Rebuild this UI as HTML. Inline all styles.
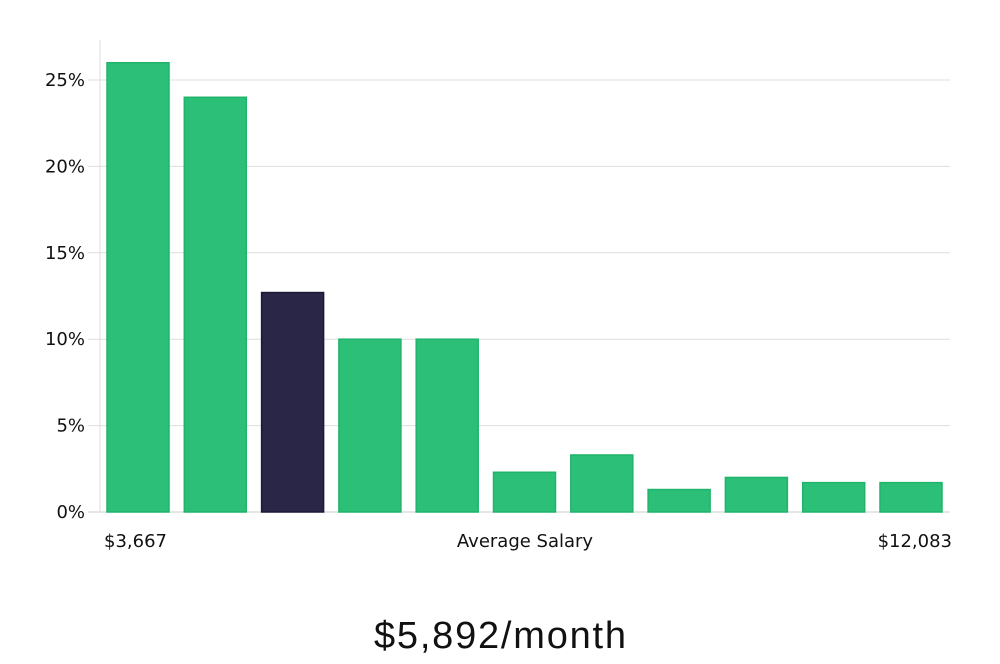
<!DOCTYPE html>
<html><head><meta charset="utf-8"><style>
body{margin:0;background:#fff;width:1000px;height:660px;overflow:hidden;font-family:"DejaVu Sans","Liberation Sans",sans-serif}
</style></head><body>
<svg id="chart" width="1000" height="660" xmlns="http://www.w3.org/2000/svg">
<g id="grid"></g><g id="bars"></g><g id="labels"></g>
<line x1="100" y1="40" x2="100" y2="512" stroke="#ddd" stroke-width="1"/>
<text x="104" y="547" font-size="18" fill="#111">$3,667</text>
<text x="525" y="547" font-size="18" fill="#111" text-anchor="middle">Average Salary</text>
<text x="952" y="547" font-size="18" fill="#111" text-anchor="end">$12,083</text>
<text x="500" y="648" font-size="38" fill="#111" text-anchor="middle" font-family="Liberation Sans Narrow, Liberation Sans, sans-serif" textLength="252">$5,892/month</text>
</svg>
<script>
const values=[26,24,12.7,10,10,2.3,3.3,1.3,2.0,1.7,1.7];
const highlight=[false,false,true,false,false,false,false,false,false,false,false];
const ticks=[0,5,10,15,20,25];
const tickLabels=["0%","5%","10%","15%","20%","25%"];
const ns="http://www.w3.org/2000/svg";
const y0=512,pxPer=17.28,x0=107,step=77.3,bw=62;
const y=v=>y0-v*pxPer;
const x=i=>x0+i*step;
const grid=document.getElementById('grid'),bars=document.getElementById('bars'),labels=document.getElementById('labels');
ticks.forEach((t,i)=>{
 const l=document.createElementNS(ns,'line');
 
 
 l.setAttribute('x1',88);l.setAttribute('x2',950);l.setAttribute('y1',y(t));l.setAttribute('y2',y(t));
 l.setAttribute('stroke',t===0?'#ccc':'#ddd');l.setAttribute('stroke-width',1);
 grid.appendChild(l);
 const tx=document.createElementNS(ns,'text');
 
 
 tx.setAttribute('x',85);tx.setAttribute('y',y(t)+6);tx.setAttribute('text-anchor','end');
 tx.setAttribute('font-size',18);tx.setAttribute('fill','#111');
 tx.textContent=tickLabels[i];labels.appendChild(tx);
});
values.forEach((v,i)=>{
 const r=document.createElementNS(ns,'rect');
 
 
 r.setAttribute('x',x(i));r.setAttribute('y',y(v));r.setAttribute('width',bw);r.setAttribute('height',y0-y(v));
 r.setAttribute('fill',highlight[i]?'#2a2648':'#2bbf77');
 r.setAttribute('stroke',highlight[i]?'#1c1838':'#20b46b');r.setAttribute('stroke-width',1.5);
 bars.appendChild(r);
});
</script>
</body></html>
